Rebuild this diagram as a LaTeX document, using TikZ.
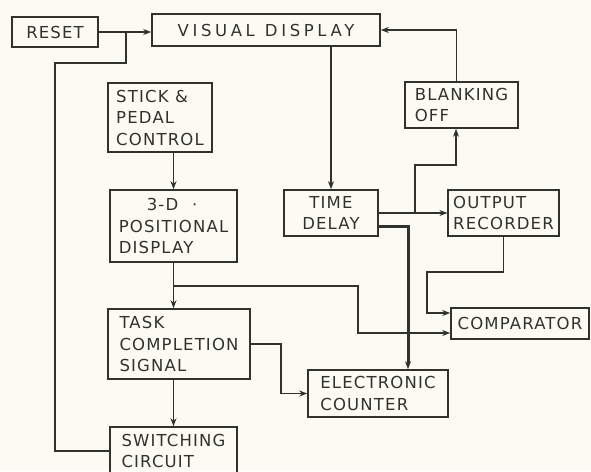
\documentclass[tikz,border=0pt]{standalone}
\usepackage{fontspec}
\newfontfamily\lettering[LetterSpace=7]{DejaVu Sans}
\newfontfamily\widelettering[LetterSpace=22]{DejaVu Sans}
\usetikzlibrary{arrows.meta,calc}
\definecolor{paper}{RGB}{252,251,243}
\definecolor{ink}{RGB}{50,50,45}

\begin{document}
\begin{tikzpicture}[x=1pt,y=-1pt,>={Stealth[length=8pt,width=6pt]},
  blk/.style={draw=ink,line width=1.6pt,inner xsep=5pt,inner ysep=0pt,align=left,
    text=ink,font=\lettering\fontsize{16.5}{21.5}\selectfont},
  link/.style={draw=ink,line width=1.5pt,->},
  wire/.style={draw=ink,line width=1.5pt}]
  \fill[paper] (0,0) rectangle (591,471);
  \clip (0,0) rectangle (591,471);
  % blocks
  \node[blk,align=center,minimum width=86pt,minimum height=30pt] (reset) at (55,32) {RESET};
  \node[blk,align=center,minimum width=228pt,minimum height=32pt,
    font=\widelettering\fontsize{16.5}{21.5}\selectfont] (visual) at (266,30) {VISUAL\hspace{10pt}DISPLAY};
  \node[blk,minimum width=104pt,minimum height=69pt] (stick) at (160,117.5) {STICK \&\\PEDAL\\CONTROL};
  \node[blk,minimum width=127pt,minimum height=72pt] (posdisp) at (173.5,226) {\hspace*{28pt}3-D\hspace{14pt}·\\POSITIONAL\\DISPLAY};
  \node[blk,minimum width=142pt,minimum height=70pt] (task) at (179,344) {TASK\\COMPLETION\\SIGNAL};
  \node[blk,minimum width=127pt,minimum height=48pt] (switch) at (173.5,451) {SWITCHING\\CIRCUIT};
  \node[blk,align=center,minimum width=94pt,minimum height=46pt] (timedelay) at (331,213) {TIME\\DELAY};
  \node[blk,minimum width=113pt,minimum height=46pt] (blanking) at (461.5,105) {BLANKING\\OFF};
  \node[blk,minimum width=109pt,minimum height=46pt] (output) at (503.5,213) {OUTPUT\\RECORDER};
  \node[blk,align=center,minimum width=138pt,minimum height=31pt] (comparator) at (520,323.5) {COMPARATOR};
  \node[blk,minimum width=140pt,minimum height=47pt] (counter) at (378,393.5) {ELECTRONIC\\COUNTER};
  % junctions and bends
  \coordinate (join) at (126,32);
  \coordinate (tapA) at ($(posdisp.south)+(0,23)$);
  \coordinate (bendA) at (358,333);
  \coordinate (tapB) at (415,213);
  \coordinate (bendB) at (456,165);
  \coordinate (bendC) at (427,272);
  % left column
  \draw[link] (reset.east) -- (reset.east -| visual.west);
  \draw[wire] (switch.west) -| (55,63) -| (join);
  \draw[link] (posdisp.north |- stick.south) -- (posdisp.north);
  \draw[link] (posdisp.south) -- (posdisp.south |- task.north);
  \draw[link] (switch.north |- task.south) -- (switch.north);
  \draw[link] (tapA) -| (bendA) -- (bendA -| comparator.west);
  \draw[link] (task.east) -- ++(30,0) |- (counter.west);
  % right column
  \draw[link] (visual.south -| timedelay.north) -- (timedelay.north);
  \draw[link] ($(blanking.north)+(-5,0)$) |- (visual.east);
  \draw[link] (timedelay.east) -- (output.west);
  \draw[link] (tapB) |- (bendB) -- (bendB |- blanking.south);
  \draw[link,line width=3pt] ($(timedelay.east)+(0,13)$) -| ($(counter.north)+(30,0)$);
  \draw[link] (output.south) |- (bendC) |- ($(comparator.west)+(0,-10.5)$);
\end{tikzpicture}
\end{document}
